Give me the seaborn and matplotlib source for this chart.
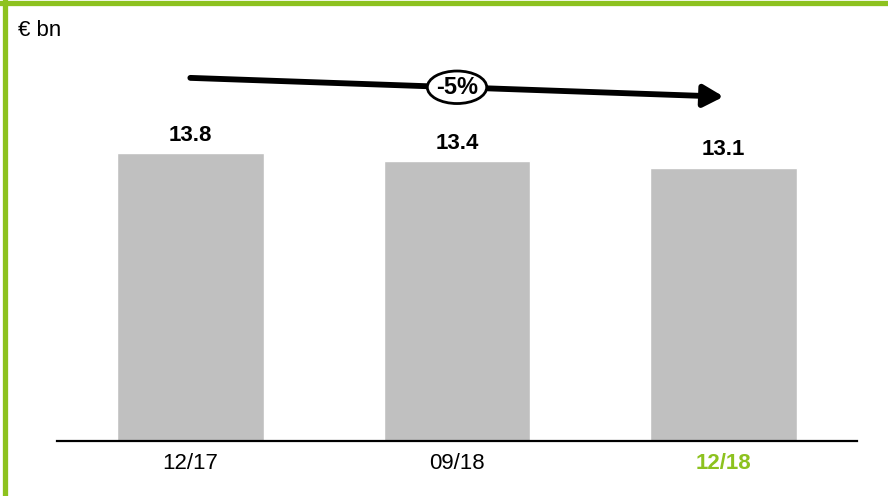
import matplotlib
matplotlib.use('Agg')
import matplotlib.pyplot as plt
from matplotlib.lines import Line2D
import seaborn as sns
import pandas as pd

# data
periods = ['12/17', '09/18', '12/18']
values = [13.8, 13.4, 13.1]
change_label = '-5%'

green = '#8dc21f'

sns.set_theme(style='white')
plt.rcParams['font.family'] = ['Liberation Sans', 'DejaVu Sans']
plt.rcParams['text.color'] = 'black'
plt.rcParams['xtick.color'] = 'black'

df = pd.DataFrame({'period': periods, 'value': values})

fig = plt.figure(figsize=(8.88, 4.96), dpi=100)
ax = fig.add_axes([0.0642, 0.1109, 0.9009, 0.7994])

sns.barplot(data=df, x='period', y='value', color='#c0c0c0', width=0.55,
            saturation=1, ax=ax)

ax.set_xlim(-0.5, 2.5)
ax.set_ylim(0, 19)
ax.set_xlabel('')
ax.set_ylabel('')
ax.set_yticks([])
for s in ['top', 'right', 'left']:
    ax.spines[s].set_visible(False)
ax.spines['bottom'].set_color('black')
ax.spines['bottom'].set_linewidth(1.6)
ax.tick_params(axis='x', length=0, pad=9, labelsize=16, labelcolor='black')

labels = ax.get_xticklabels()
labels[-1].set_color(green)
labels[-1].set_fontweight('bold')

# value labels above bars
for i, v in enumerate(values):
    ax.text(i, v + 0.35, f'{v:.1f}', ha='center', va='bottom',
            fontsize=16, fontweight='bold', color='black')

# trend arrow with percentage bubble
ax.annotate('', xy=(2.0, 16.5), xytext=(0, 17.4),
            arrowprops=dict(arrowstyle='-|>,head_length=1.0,head_width=0.55',
                            color='black', lw=4.2, shrinkA=0, shrinkB=0))
ax.text(1, 16.95, change_label, ha='center', va='center', fontsize=17,
        fontweight='bold', color='black',
        bbox=dict(boxstyle='ellipse,pad=0.0', fc='white', ec='black', lw=2))

# unit label
fig.text(18 / 888, 1 - 31 / 496, '€ bn', ha='left', va='center', fontsize=16)

# green frame (top and left)
fig.add_artist(Line2D([0, 1], [1 - 2.5 / 496, 1 - 2.5 / 496],
                      transform=fig.transFigure, color=green, lw=3.8))
fig.add_artist(Line2D([5 / 888, 5 / 888], [0, 1],
                      transform=fig.transFigure, color=green, lw=3.8))

fig.savefig('out.png', dpi=100)
